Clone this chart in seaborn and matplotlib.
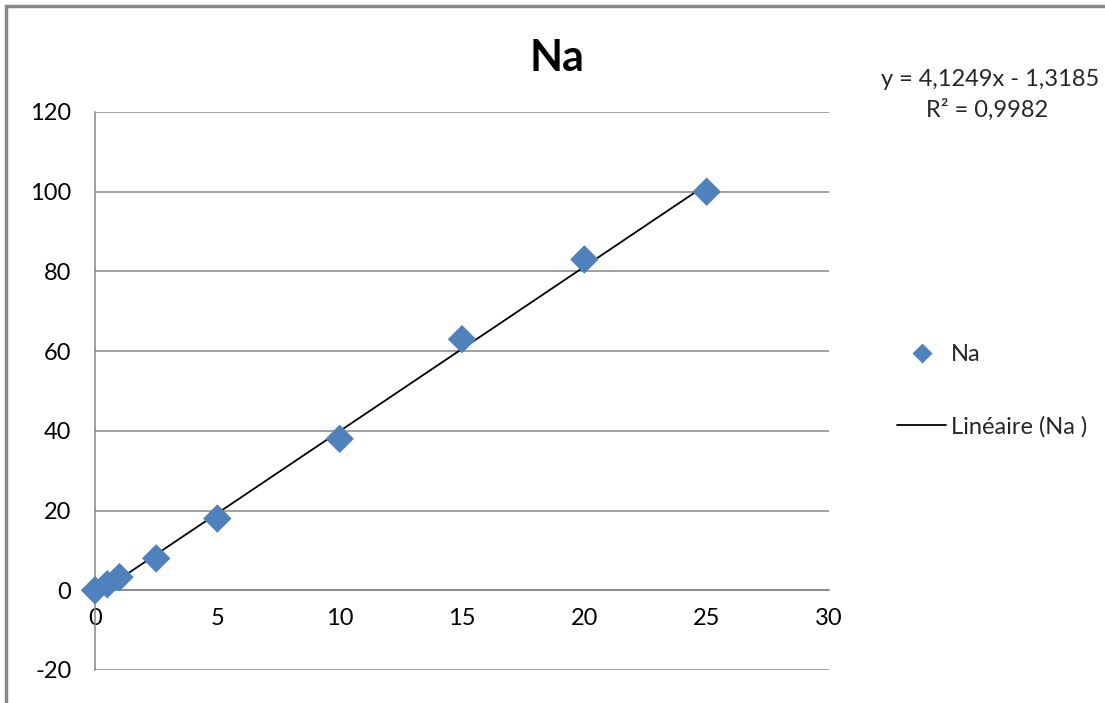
import matplotlib
matplotlib.use("Agg")
import matplotlib.pyplot as plt
import seaborn as sns
import numpy as np
import pandas as pd
from matplotlib.lines import Line2D
from matplotlib.patches import Rectangle

# Calibration data for sodium
concentration = [0, 0.5, 1, 2.5, 5, 10, 15, 20, 25]
signal = [0, 1.5, 3.3, 8, 18, 38, 63, 83, 100]

# Linear trend line coefficients
slope = 4.1249
intercept = -1.3185
r_squared = 0.9982

x_ticks = [0, 5, 10, 15, 20, 25, 30]
y_ticks = [-20, 0, 20, 40, 60, 80, 100, 120]

sns.set_style("white")
plt.rcParams["font.family"] = ["Lato", "DejaVu Sans"]

BLUE = "#4F81BD"
GRID = "#868686"
FS = 17

fig = plt.figure(figsize=(11.05, 7.03), dpi=100)
ax = fig.add_axes([95 / 1105, 1 - 670 / 703, (829 - 95) / 1105, (670 - 112) / 703])

df = pd.DataFrame({"x": concentration, "y": signal})
trend_x = np.array([concentration[0], concentration[-1]])
trend = pd.DataFrame({"x": trend_x, "y": slope * trend_x + intercept})

sns.lineplot(data=trend, x="x", y="y", ax=ax, color="black", linewidth=1.3, zorder=3)
sns.scatterplot(data=df, x="x", y="y", ax=ax, marker="D", s=210, color=BLUE,
                edgecolor="none", zorder=4, clip_on=False)

ax.set_xlim(0, 30)
ax.set_ylim(-20, 120)
ax.set_xticks(x_ticks)
ax.set_yticks(y_ticks)
ax.set_xticklabels([str(t) for t in x_ticks])
ax.set_yticklabels([str(t) for t in y_ticks])
ax.set_xlabel("")
ax.set_ylabel("")

ax.yaxis.grid(True, color=GRID, linewidth=1.1)
ax.xaxis.grid(False)
ax.set_axisbelow(True)

for side in ("top", "right"):
    ax.spines[side].set_visible(False)
ax.spines["left"].set_position(("data", 0))
ax.spines["bottom"].set_position(("data", 0))
for side in ("left", "bottom"):
    ax.spines[side].set_color(GRID)
    ax.spines[side].set_linewidth(1.1)

ax.tick_params(axis="x", direction="out", length=5, width=1.1, color=GRID,
               labelsize=FS, pad=8, labelcolor="black")
ax.tick_params(axis="y", direction="out", length=5, width=1.1, color=GRID,
               labelsize=FS, pad=12, labelcolor="black")

fig.text(557 / 1105, 1 - 58 / 703, "Na", ha="center", va="center",
         fontsize=31, fontweight="bold", color="black")

fig.text(990 / 1105, 1 - 80 / 703,
         f"y = {slope:.4f}x - {abs(intercept):.4f}".replace(".", ","),
         ha="center", va="center", fontsize=FS)
fig.text(987 / 1105, 1 - 110 / 703,
         f"R² = {r_squared:.4f}".replace(".", ","),
         ha="center", va="center", fontsize=FS)

handles = [
    Line2D([], [], marker="D", linestyle="none", markersize=10.5,
           markerfacecolor=BLUE, markeredgecolor="none"),
    Line2D([], [], color="black", linewidth=1.3),
]
fig.legend(handles, ["Na", "Linéaire (Na )"], loc="center left",
           bbox_to_anchor=(885 / 1105, 1 - 391 / 703), frameon=False,
           fontsize=FS, handlelength=2.1, handletextpad=0.2,
           labelspacing=2.15, borderpad=0)

fig.patches.append(Rectangle((6 / 1105, -0.05), 1.2, 1 - 6 / 703 + 0.05,
                             transform=fig.transFigure, fill=False,
                             edgecolor="#888888", linewidth=2.5))

fig.savefig("out.png", dpi=100)
